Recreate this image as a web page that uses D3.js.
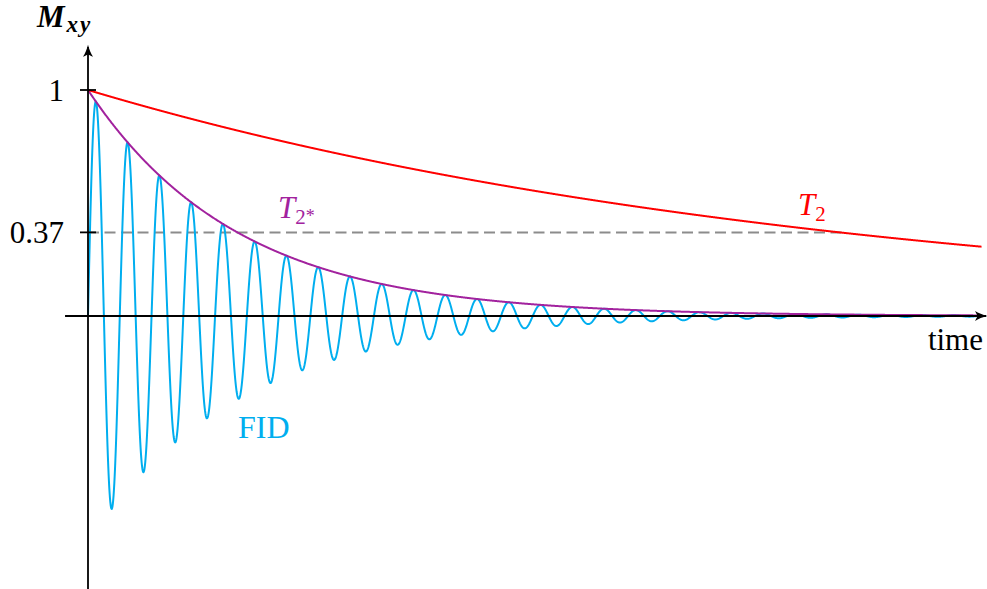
<!DOCTYPE html>
<html>
<head>
<meta charset="utf-8">
<script src="https://cdn.jsdelivr.net/npm/d3@7"></script>
<style>
  html, body { margin: 0; padding: 0; background: #fff; }
  svg { display: block; }
  text { font-family: "Liberation Serif", "Times New Roman", serif; }
</style>
</head>
<body>
<svg id="chart" width="987" height="589"></svg>
<script>
// Signal model parameters (time in arbitrary units)
const decayT2 = [8.4];          // spin-spin relaxation constant
const decayT2star = [1.67];     // effective decay constant
const fidPeriod = [0.353];      // precession period of the free induction decay
const timeSpan = [0, 9.93];     // extent of the plotted curves

const yTicks = [1, 0.37];
const yTickLabels = ["1", "0.37"];
const refLevel = [0.37];        // 1/e reference level
const refLevelEnd = [8.4];      // where the dashed reference stops

const colors = { t2: "#ff0000", t2star: "#a2229e", fid: "#00aeef", ref: "#8c8c8c", axis: "#000" };

const svg = d3.select("#chart");

const x = d3.scaleLinear().domain([0, 10]).range([88, 988]);
const y = d3.scaleLinear().domain([0, 1]).range([316, 90]);

// sampled time grid
const ts = d3.range(timeSpan[0], timeSpan[1] + 1e-9, 0.004);

const envT2 = ts.map(t => [t, Math.exp(-t / decayT2[0])]);
const envT2s = ts.map(t => [t, Math.exp(-t / decayT2star[0])]);
const fid = ts.map(t => [t, Math.exp(-t / decayT2star[0]) * Math.sin(2 * Math.PI * t / fidPeriod[0])]);

const line = d3.line().x(d => x(d[0])).y(d => y(d[1]));

// dashed 1/e reference
svg.append("line")
  .attr("x1", x(0)).attr("x2", x(refLevelEnd[0]))
  .attr("y1", y(refLevel[0])).attr("y2", y(refLevel[0]))
  .attr("stroke", colors.ref).attr("stroke-width", 2)
  .attr("stroke-dasharray", "11,5.5");

// curves
svg.append("path").attr("d", line(fid))
  .attr("fill", "none").attr("stroke", colors.fid).attr("stroke-width", 2).attr("stroke-linejoin", "round");
svg.append("path").attr("d", line(envT2s))
  .attr("fill", "none").attr("stroke", colors.t2star).attr("stroke-width", 2);
svg.append("path").attr("d", line(envT2))
  .attr("fill", "none").attr("stroke", colors.t2).attr("stroke-width", 2);

// axes with LaTeX-style arrow heads
const arrowHead = "M0,0 C-1,4 -3,9 -5,12 C-2,10.5 -1,10 0,9.6 C1,10 2,10.5 5,12 C3,9 1,4 0,0 Z";

svg.append("line")
  .attr("x1", x(-0.255)).attr("x2", x(9.98))
  .attr("y1", y(0)).attr("y2", y(0))
  .attr("stroke", colors.axis).attr("stroke-width", 1.8);
svg.append("path").attr("d", arrowHead)
  .attr("transform", `translate(${x(9.99)},${y(0)}) rotate(90)`)
  .attr("fill", colors.axis);

svg.append("line")
  .attr("x1", x(0)).attr("x2", x(0))
  .attr("y1", 589).attr("y2", y(1.19))
  .attr("stroke", colors.axis).attr("stroke-width", 1.8);
svg.append("path").attr("d", arrowHead)
  .attr("transform", `translate(${x(0)},${y(1.2)})`)
  .attr("fill", colors.axis);

// y ticks and labels
const tickG = svg.append("g");
yTicks.forEach((v, i) => {
  tickG.append("line")
    .attr("x1", x(0) - 8).attr("x2", x(0) + 8)
    .attr("y1", y(v)).attr("y2", y(v))
    .attr("stroke", colors.axis).attr("stroke-width", 1.8);
  tickG.append("text")
    .attr("x", x(0) - 24).attr("y", y(v)).attr("dy", "0.34em")
    .attr("text-anchor", "end").attr("font-size", 31)
    .text(yTickLabels[i]);
});

// axis titles
svg.append("text").attr("x", 983).attr("y", 350)
  .attr("text-anchor", "end").attr("font-size", 31).text("time");

const yTitle = svg.append("text").attr("x", 37).attr("y", 27)
  .attr("font-size", 31).attr("font-weight", "bold").attr("font-style", "italic");
yTitle.append("tspan").text("M");
yTitle.append("tspan").attr("font-size", 23).attr("dy", 5).attr("dx", 2).attr("letter-spacing", 2).text("xy");

// curve labels
const t2Label = svg.append("text").attr("x", 798).attr("y", 215)
  .attr("font-size", 31).attr("fill", colors.t2);
t2Label.append("tspan").attr("font-style", "italic").text("T");
t2Label.append("tspan").attr("font-size", 21).attr("dy", 6).text("2");

const t2sLabel = svg.append("text").attr("x", 278).attr("y", 218)
  .attr("font-size", 31).attr("fill", colors.t2star);
t2sLabel.append("tspan").attr("font-style", "italic").text("T");
t2sLabel.append("tspan").attr("font-size", 21).attr("dy", 6).text("2");
t2sLabel.append("tspan").attr("font-size", 18).attr("dy", -2).text("*");

svg.append("text").attr("x", 238).attr("y", 438)
  .attr("font-size", 32).attr("fill", colors.fid).text("FID");
</script>
</body>
</html>
